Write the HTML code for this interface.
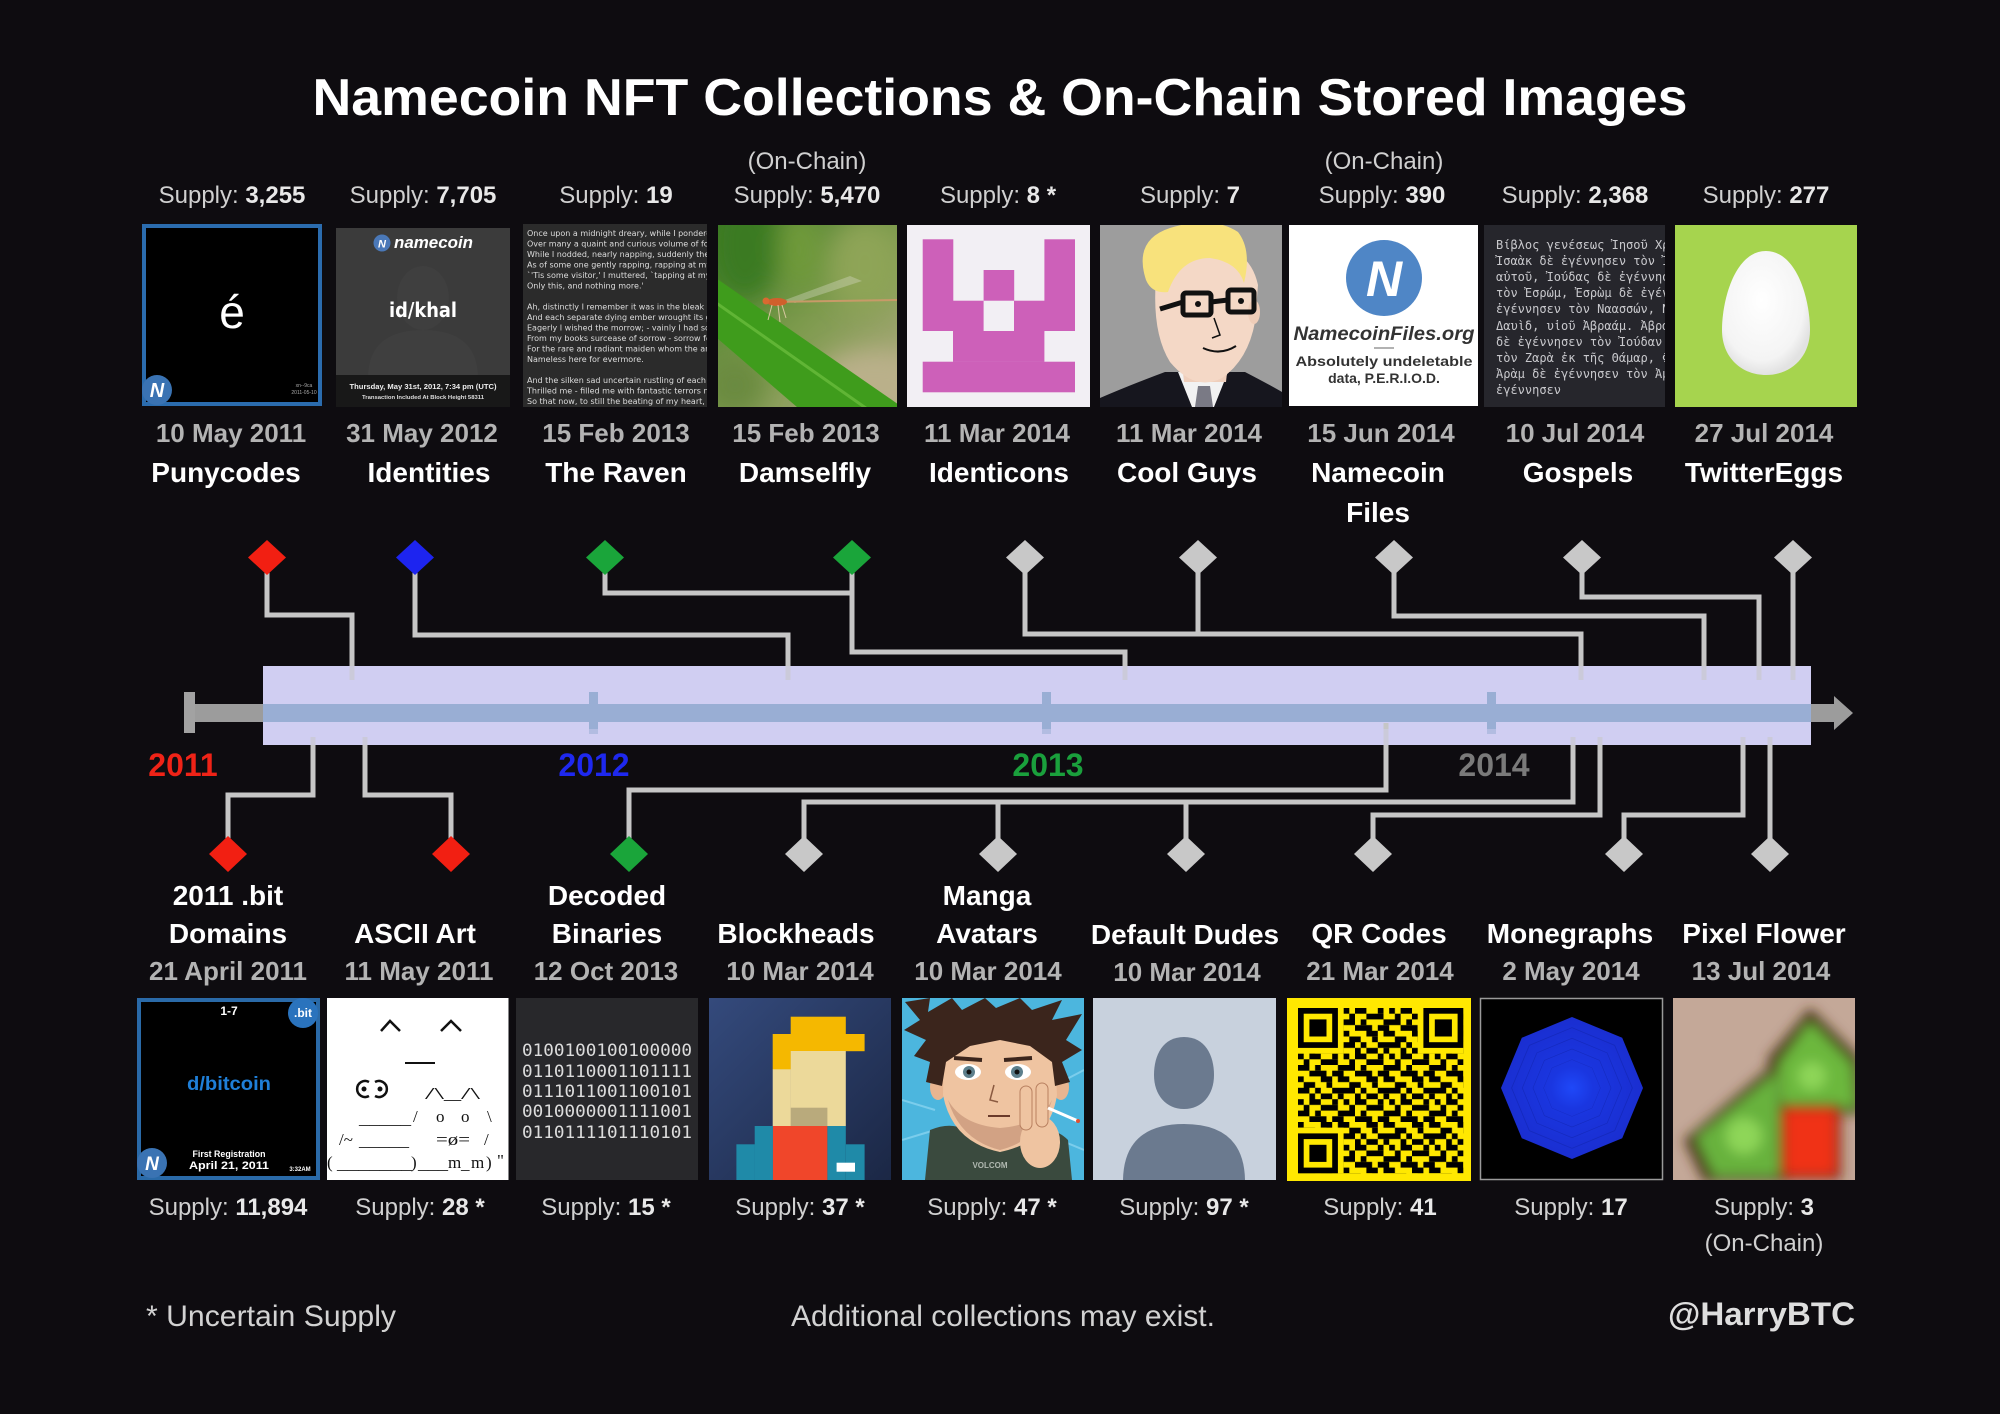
<!DOCTYPE html>
<html><head><meta charset="utf-8"><title>Namecoin NFT Collections &amp; On-Chain Stored Images</title>
<style>
html,body{margin:0;padding:0;background:#0e0c10;width:2000px;height:1414px;overflow:hidden}
svg{display:block;font-family:"Liberation Sans",Arial,sans-serif}
.sup{font-size:24px;fill:#d0d0d0;text-anchor:middle}
.b{font-weight:bold;fill:#e8e8e8}
.dt{font-size:26px;font-weight:bold;fill:#b3b3b3;text-anchor:middle}
.nm{font-size:28px;font-weight:bold;fill:#ffffff;text-anchor:middle}
.yr{font-size:32px;font-weight:bold;text-anchor:middle}
.cn{fill:none;stroke:#c6c6c6;stroke-width:5;stroke-linejoin:miter}
</style></head><body>
<svg width="2000" height="1414" viewBox="0 0 2000 1414" xmlns="http://www.w3.org/2000/svg">
<defs>
<filter id="bl4" x="-20%" y="-20%" width="140%" height="140%"><feGaussianBlur stdDeviation="6"/></filter>
<filter id="bl12" x="-30%" y="-30%" width="160%" height="160%"><feGaussianBlur stdDeviation="12"/></filter>
<clipPath id="cRav"><rect x="523" y="224" width="184" height="183"/></clipPath>
<clipPath id="cDam"><rect x="718" y="225" width="179" height="182"/></clipPath>
<clipPath id="cCG"><rect x="1100" y="225" width="182" height="182"/></clipPath>
<clipPath id="cGos"><rect x="1484" y="225" width="181" height="182"/></clipPath>
<clipPath id="cMan"><rect x="902" y="998" width="182" height="182"/></clipPath>
<clipPath id="cPF"><rect x="1673" y="998" width="182" height="182"/></clipPath>
<clipPath id="cBit"><rect x="137" y="998" width="183" height="182"/></clipPath>
<clipPath id="cPuny"><rect x="142" y="224" width="180" height="182"/></clipPath>
<linearGradient id="dg" x1="0" y1="0" x2="1" y2="1"><stop offset="0" stop-color="#3f7a26"/><stop offset="0.5" stop-color="#7c9a4c"/><stop offset="1" stop-color="#b0aa80"/></linearGradient>
<linearGradient id="bh" x1="0" y1="0" x2="1" y2="1"><stop offset="0" stop-color="#344a7c"/><stop offset="1" stop-color="#1b2745"/></linearGradient>
<radialGradient id="mg"><stop offset="0" stop-color="#1f48f8"/><stop offset="0.3" stop-color="#1a36e0"/><stop offset="1" stop-color="#1a2ed0"/></radialGradient>
<radialGradient id="egg" cx="0.45" cy="0.4" r="0.6"><stop offset="0" stop-color="#ffffff"/><stop offset="0.8" stop-color="#f4f4f4"/><stop offset="1" stop-color="#e2e2e2"/></radialGradient>
<pattern id="qrp" x="1298" y="1008" width="45.6" height="45.6" patternUnits="userSpaceOnUse">
<g transform="scale(5.7)" fill="#000">
<rect x="0" y="0" width="1" height="1"/><rect x="2" y="0" width="2" height="1"/><rect x="6" y="0" width="1" height="1"/>
<rect x="1" y="1" width="1" height="1"/><rect x="4" y="1" width="3" height="1"/>
<rect x="0" y="2" width="2" height="1"/><rect x="3" y="2" width="1" height="1"/><rect x="7" y="2" width="1" height="1"/>
<rect x="2" y="3" width="3" height="1"/><rect x="6" y="3" width="2" height="1"/>
<rect x="0" y="4" width="1" height="1"/><rect x="4" y="4" width="2" height="1"/><rect x="7" y="4" width="1" height="1"/>
<rect x="1" y="5" width="2" height="1"/><rect x="5" y="5" width="1" height="1"/>
<rect x="0" y="6" width="2" height="1"/><rect x="3" y="6" width="1" height="1"/><rect x="6" y="6" width="2" height="1"/>
<rect x="2" y="7" width="1" height="1"/><rect x="4" y="7" width="2" height="1"/><rect x="7" y="7" width="1" height="1"/>
</g></pattern>
</defs>

<rect width="2000" height="1414" fill="#0e0c10"/>

<text x="1000" y="115" font-size="52" font-weight="bold" fill="#ffffff" text-anchor="middle" textLength="1375" lengthAdjust="spacingAndGlyphs">Namecoin NFT Collections &amp; On-Chain Stored Images</text>

<text class="sup" x="807" y="169">(On-Chain)</text>
<text class="sup" x="1384" y="169">(On-Chain)</text>
<text class="sup" x="232" y="203">Supply: <tspan class="b">3,255</tspan></text>
<text class="sup" x="423" y="203">Supply: <tspan class="b">7,705</tspan></text>
<text class="sup" x="616" y="203">Supply: <tspan class="b">19</tspan></text>
<text class="sup" x="807" y="203">Supply: <tspan class="b">5,470</tspan></text>
<text class="sup" x="998" y="203">Supply: <tspan class="b">8 *</tspan></text>
<text class="sup" x="1190" y="203">Supply: <tspan class="b">7</tspan></text>
<text class="sup" x="1382" y="203">Supply: <tspan class="b">390</tspan></text>
<text class="sup" x="1575" y="203">Supply: <tspan class="b">2,368</tspan></text>
<text class="sup" x="1766" y="203">Supply: <tspan class="b">277</tspan></text>

<rect x="142" y="224" width="180" height="182" fill="#2b6cae"/>
<rect x="146" y="228" width="172" height="174" fill="#000"/>
<text x="232" y="328" font-size="46" fill="#fff" text-anchor="middle">é</text>
<g clip-path="url(#cPuny)">
<circle cx="157" cy="390" r="15" fill="#3a73b3"/>
<text x="157" y="397" font-size="20" font-weight="bold" font-style="italic" fill="#fff" text-anchor="middle">N</text>
</g>
<text x="304" y="387" font-size="5" fill="#aaa" text-anchor="middle">xn--9ca</text>
<text x="304" y="394" font-size="5" fill="#aaa" text-anchor="middle">2011-05-10</text>

<rect x="336" y="228" width="174" height="179" fill="#181818"/>
<rect x="336" y="228" width="174" height="147" fill="#3b3b3b"/>
<ellipse cx="423" cy="298" rx="26" ry="32" fill="#3f3f3f"/>
<path d="M368,375 Q370,330 423,330 Q476,330 478,375Z" fill="#3f3f3f"/>
<circle cx="382" cy="243" r="8.5" fill="#4a78b8"/>
<text x="382" y="247.5" font-size="11" font-weight="bold" font-style="italic" fill="#fff" text-anchor="middle">N</text>
<text x="394" y="248" font-size="17" font-weight="bold" font-style="italic" fill="#fff" textLength="79" lengthAdjust="spacingAndGlyphs">namecoin</text>
<text x="423" y="317" font-size="20" font-weight="bold" fill="#fff" text-anchor="middle" font-family="DejaVu Sans, sans-serif" textLength="68" lengthAdjust="spacingAndGlyphs">id/khal</text>
<text x="423" y="389" font-size="7" font-weight="bold" fill="#eee" text-anchor="middle" textLength="147" lengthAdjust="spacingAndGlyphs">Thursday, May 31st, 2012, 7:34 pm (UTC)</text>
<text x="423" y="399" font-size="5" font-weight="bold" fill="#ddd" text-anchor="middle" textLength="122" lengthAdjust="spacingAndGlyphs">Transaction Included At Block Height 58311</text>

<rect x="523" y="224" width="184" height="183" fill="#2b2b2b"/>
<g clip-path="url(#cRav)" font-family="DejaVu Sans, sans-serif" font-size="8" fill="#dddddd">
<text x="527" y="236">Once upon a midnight dreary, while I pondered, weak</text>
<text x="527" y="246.5">Over many a quaint and curious volume of forgotten</text>
<text x="527" y="257">While I nodded, nearly napping, suddenly there came</text>
<text x="527" y="267.5">As of some one gently rapping, rapping at my chamber</text>
<text x="527" y="278">`'Tis some visitor,' I muttered, `tapping at my</text>
<text x="527" y="288.5">Only this, and nothing more.'</text>
<text x="527" y="309.5">Ah, distinctly I remember it was in the bleak December</text>
<text x="527" y="320">And each separate dying ember wrought its ghost</text>
<text x="527" y="330.5">Eagerly I wished the morrow; - vainly I had sought</text>
<text x="527" y="341">From my books surcease of sorrow - sorrow for the</text>
<text x="527" y="351.5">For the rare and radiant maiden whom the angels</text>
<text x="527" y="362">Nameless here for evermore.</text>
<text x="527" y="383">And the silken sad uncertain rustling of each purple</text>
<text x="527" y="393.5">Thrilled me - filled me with fantastic terrors never</text>
<text x="527" y="404">So that now, to still the beating of my heart, I stood</text>
</g>

<g clip-path="url(#cDam)">
<rect x="718" y="225" width="179" height="182" fill="url(#dg)"/>
<g filter="url(#bl12)">
<ellipse cx="745" cy="245" rx="35" ry="55" fill="#3a7a20"/>
<ellipse cx="800" cy="250" rx="22" ry="40" fill="#6f9a3a"/>
<ellipse cx="865" cy="265" rx="35" ry="45" fill="#8ea456"/>
<ellipse cx="875" cy="385" rx="60" ry="35" fill="#bab08a"/>
<ellipse cx="735" cy="385" rx="30" ry="30" fill="#6a8a40"/>
</g>
<polygon points="710,274 905,409 905,420 812,420 710,332" fill="#3f9c1c"/>
<polyline points="712,300 880,418" fill="none" stroke="#6fc040" stroke-width="3" opacity="0.7"/>
<polygon points="785,300 850,276 862,281 795,303" fill="#e0e0d0" opacity="0.35"/>
<line x1="770" y1="302" x2="897" y2="300" stroke="#c89a68" stroke-width="2"/>
<ellipse cx="777" cy="302" rx="10" ry="4" fill="#d0602c"/>
<circle cx="766" cy="301" r="3.5" fill="#d86a30"/>
<g stroke="#d8c8a0" stroke-width="1"><line x1="772" y1="305" x2="768" y2="320"/><line x1="778" y1="305" x2="780" y2="322"/><line x1="782" y1="305" x2="786" y2="318"/></g>
</g>

<rect x="907" y="225" width="183" height="182" fill="#f2eff4"/>
<g fill="#cd60b9">
<rect x="922.7" y="239.3" width="30.6" height="91.7"/>
<rect x="1044.4" y="239.3" width="30.6" height="91.7"/>
<rect x="983.6" y="270" width="30.6" height="30.7"/>
<rect x="953" y="300.7" width="30.6" height="30.5"/>
<rect x="1014" y="300.7" width="30.6" height="30.5"/>
<rect x="953" y="331" width="91.4" height="30.9"/>
<rect x="922.7" y="361.7" width="152.3" height="30.6"/>
</g>

<rect x="1100" y="225" width="182" height="182" fill="#9d9d9d"/>
<g clip-path="url(#cCG)">
<path d="M1100,407 L1100,398 Q1130,385 1165,372 L1245,372 Q1270,385 1282,392 L1282,407Z" fill="#16161e"/>
<path d="M1178,372 L1228,372 L1214,407 L1192,407Z" fill="#f2f2f2"/>
<path d="M1198,386 L1210,386 L1213,407 L1195,407Z" fill="#7a7a85"/>
<path d="M1180,345 L1230,345 L1226,382 L1184,382Z" fill="#efcfbc"/>
<path d="M1157,268 Q1150,330 1170,362 Q1195,392 1222,378 Q1248,360 1255,322 L1258,285 Q1250,248 1210,244 Q1172,244 1157,268Z" fill="#f4d8c6"/>
<ellipse cx="1254" cy="312" rx="6" ry="12" fill="#efcdb8"/>
<path d="M1146,280 Q1133,240 1170,228 Q1212,215 1238,232 Q1252,250 1244,283 Q1238,262 1210,258 Q1180,258 1168,292 Q1152,294 1146,280Z" fill="#f8e27c"/>
<g fill="none" stroke="#111" stroke-width="5">
<rect x="1183" y="293" width="28" height="22" rx="3"/>
<rect x="1228" y="290" width="26" height="22" rx="3"/>
<path d="M1211,302 L1228,300"/>
<path d="M1160,309 L1183,302"/>
</g>
<circle cx="1198" cy="304" r="3" fill="#111"/><circle cx="1241" cy="301" r="3" fill="#111"/>
<path d="M1214,318 L1220,335 L1212,338" fill="none" stroke="#111" stroke-width="1.5"/>
<path d="M1203,348 Q1220,356 1236,346" fill="none" stroke="#111" stroke-width="2"/>
</g>

<rect x="1289" y="225" width="189" height="181" fill="#ffffff"/>
<circle cx="1384" cy="278" r="38" fill="#4f86c6"/>
<text x="1384" y="296" font-size="50" font-weight="bold" font-style="italic" fill="#fff" text-anchor="middle">N</text>
<text x="1384" y="340" font-size="19" font-weight="bold" font-style="italic" fill="#333" text-anchor="middle" textLength="181" lengthAdjust="spacingAndGlyphs">NamecoinFiles.org</text>
<line x1="1374" y1="348" x2="1394" y2="348" stroke="#666" stroke-width="1"/>
<text x="1384" y="366" font-size="14" font-weight="bold" fill="#333" text-anchor="middle" textLength="177" lengthAdjust="spacingAndGlyphs">Absolutely undeletable</text>
<text x="1384" y="383" font-size="14" font-weight="bold" fill="#333" text-anchor="middle">data,  P.E.R.I.O.D.</text>

<rect x="1484" y="225" width="181" height="182" fill="#26262c"/>
<g clip-path="url(#cGos)" font-family="DejaVu Sans Mono, monospace" font-size="12" fill="#c8c8cc">
<text x="1496" y="249">Βίβλος γενέσεως Ἰησοῦ Χριστοῦ</text>
<text x="1496" y="265">Ἰσαὰκ δὲ ἐγέννησεν τὸν Ἰακώβ,</text>
<text x="1496" y="281">αὐτοῦ, Ἰούδας δὲ ἐγέννησεν</text>
<text x="1496" y="297">τὸν Ἐσρώμ, Ἐσρὼμ δὲ ἐγέννησεν</text>
<text x="1496" y="313">ἐγέννησεν τὸν Ναασσών, Ναασσὼν</text>
<text x="1496" y="330">Δαυὶδ, υἱοῦ Ἀβραάμ. Ἀβραὰμ</text>
<text x="1496" y="346">δὲ ἐγέννησεν τὸν Ἰούδαν καὶ</text>
<text x="1496" y="362">τὸν Ζαρὰ ἐκ τῆς Θάμαρ, Φαρὲς</text>
<text x="1496" y="378">Ἀρὰμ δὲ ἐγέννησεν τὸν Ἀμιναδάβ</text>
<text x="1496" y="394">ἐγέννησεν</text>
</g>

<rect x="1675" y="225" width="182" height="182" fill="#a6d44e"/>
<path d="M1766,251 C1797,251 1810,300 1810,330 C1810,358 1790,375 1766,375 C1742,375 1722,358 1722,330 C1722,300 1735,251 1766,251Z" fill="url(#egg)"/>

<text class="dt" x="231" y="442">10 May 2011</text>
<text class="dt" x="422" y="442">31 May 2012</text>
<text class="dt" x="616" y="442">15 Feb 2013</text>
<text class="dt" x="806" y="442">15 Feb 2013</text>
<text class="dt" x="997" y="442">11 Mar 2014</text>
<text class="dt" x="1189" y="442">11 Mar 2014</text>
<text class="dt" x="1381" y="442">15 Jun 2014</text>
<text class="dt" x="1575" y="442">10 Jul 2014</text>
<text class="dt" x="1764" y="442">27 Jul 2014</text>
<text class="nm" x="226" y="482">Punycodes</text>
<text class="nm" x="429" y="482">Identities</text>
<text class="nm" x="616" y="482">The Raven</text>
<text class="nm" x="805" y="482">Damselfly</text>
<text class="nm" x="999" y="482">Identicons</text>
<text class="nm" x="1187" y="482">Cool Guys</text>
<text class="nm" x="1378" y="482">Namecoin</text>
<text class="nm" x="1378" y="522">Files</text>
<text class="nm" x="1578" y="482">Gospels</text>
<text class="nm" x="1764" y="482">TwitterEggs</text>

<rect x="190" y="704" width="75" height="18" fill="#9c9c9c"/>
<rect x="184" y="692" width="11" height="41" fill="#a2a2a2"/>
<rect x="1809" y="704" width="28" height="18" fill="#9c9c9c"/>
<polygon points="1834,696 1853,713 1834,730" fill="#9c9c9c"/>
<rect x="263" y="666" width="1548" height="79" fill="#d0cef2"/>
<rect x="263" y="704" width="1548" height="18" fill="#99aed4"/>
<rect x="589" y="692" width="9" height="42" fill="#99aed4"/>
<rect x="1042" y="692" width="9" height="42" fill="#99aed4"/>
<rect x="1487" y="692" width="9" height="42" fill="#99aed4"/>

<path class="cn" d="M267,570 V615 H352 V680"/>
<path class="cn" d="M415,570 V635 H788 V680"/>
<path class="cn" d="M605,570 V593 H852"/>
<path class="cn" d="M852,570 V652 H1125 V680"/>
<path class="cn" d="M1025,570 V634 H1581 V680"/>
<path class="cn" d="M1198,570 V634"/>
<path class="cn" d="M1394,570 V616 H1704 V680"/>
<path class="cn" d="M1582,570 V597 H1759 V680"/>
<path class="cn" d="M1793,570 V680"/>
<path class="cn" d="M228,840 V795 H313 V737"/>
<path class="cn" d="M451,840 V795 H365 V737"/>
<path class="cn" d="M629,840 V790 H1386 V723"/>
<path class="cn" d="M804,840 V802 H1573 V737"/>
<path class="cn" d="M998,840 V802"/>
<path class="cn" d="M1186,840 V802"/>
<path class="cn" d="M1373,840 V815 H1600 V737"/>
<path class="cn" d="M1624,840 V815 H1743 V737"/>
<path class="cn" d="M1770,840 V737"/>
<rect x="263" y="666" width="1548" height="16" fill="#d0cef2" opacity="0.45"/>
<rect x="263" y="729" width="1548" height="16" fill="#d0cef2" opacity="0.45"/>

<g>
<polygon points="267,540 286,557.5 267,575 248,557.5" fill="#f21f12"/>
<polygon points="415,540 434,557.5 415,575 396,557.5" fill="#1d24f0"/>
<polygon points="605,540 624,557.5 605,575 586,557.5" fill="#1aa53a"/>
<polygon points="852,540 871,557.5 852,575 833,557.5" fill="#1aa53a"/>
<polygon points="1025,540 1044,557.5 1025,575 1006,557.5" fill="#c8c8c8"/>
<polygon points="1198,540 1217,557.5 1198,575 1179,557.5" fill="#c8c8c8"/>
<polygon points="1394,540 1413,557.5 1394,575 1375,557.5" fill="#c8c8c8"/>
<polygon points="1582,540 1601,557.5 1582,575 1563,557.5" fill="#c8c8c8"/>
<polygon points="1793,540 1812,557.5 1793,575 1774,557.5" fill="#c8c8c8"/>
</g>
<g>
<polygon points="228,836 247,854 228,872 209,854" fill="#f21f12"/>
<polygon points="451,836 470,854 451,872 432,854" fill="#f21f12"/>
<polygon points="629,836 648,854 629,872 610,854" fill="#1aa53a"/>
<polygon points="804,836 823,854 804,872 785,854" fill="#c8c8c8"/>
<polygon points="998,836 1017,854 998,872 979,854" fill="#c8c8c8"/>
<polygon points="1186,836 1205,854 1186,872 1167,854" fill="#c8c8c8"/>
<polygon points="1373,836 1392,854 1373,872 1354,854" fill="#c8c8c8"/>
<polygon points="1624,836 1643,854 1624,872 1605,854" fill="#c8c8c8"/>
<polygon points="1770,836 1789,854 1770,872 1751,854" fill="#c8c8c8"/>
</g>

<text class="yr" x="183" y="776" fill="#ef2317">2011</text>
<text class="yr" x="594" y="776" fill="#1e28ef">2012</text>
<text class="yr" x="1048" y="776" fill="#1aa03c">2013</text>
<text class="yr" x="1494" y="776" fill="#7a7a7a">2014</text>

<text class="nm" x="228" y="905">2011 .bit</text>
<text class="nm" x="228" y="943">Domains</text>
<text class="nm" x="415" y="943">ASCII Art</text>
<text class="nm" x="607" y="905">Decoded</text>
<text class="nm" x="607" y="943">Binaries</text>
<text class="nm" x="796" y="943">Blockheads</text>
<text class="nm" x="987" y="905">Manga</text>
<text class="nm" x="987" y="943">Avatars</text>
<text class="nm" x="1185" y="944">Default Dudes</text>
<text class="nm" x="1379" y="943">QR Codes</text>
<text class="nm" x="1570" y="943">Monegraphs</text>
<text class="nm" x="1764" y="943">Pixel Flower</text>
<text class="dt" x="228" y="980">21 April 2011</text>
<text class="dt" x="419" y="980">11 May 2011</text>
<text class="dt" x="606" y="980">12 Oct 2013</text>
<text class="dt" x="800" y="980">10 Mar 2014</text>
<text class="dt" x="988" y="980">10 Mar 2014</text>
<text class="dt" x="1187" y="981">10 Mar 2014</text>
<text class="dt" x="1380" y="980">21 Mar 2014</text>
<text class="dt" x="1571" y="980">2 May 2014</text>
<text class="dt" x="1761" y="980">13 Jul 2014</text>

<rect x="137" y="998" width="183" height="182" fill="#2a6aa8"/>
<rect x="141" y="1002" width="175" height="174" fill="#000"/>
<g clip-path="url(#cBit)">
<circle cx="303" cy="1013" r="15" fill="#2a73bd"/>
<circle cx="152" cy="1163" r="15" fill="#3a73b3"/>
</g>
<text x="303" y="1017" font-size="12" font-weight="bold" fill="#fff" text-anchor="middle">.bit</text>
<text x="152" y="1170" font-size="19" font-weight="bold" font-style="italic" fill="#fff" text-anchor="middle">N</text>
<text x="229" y="1015" font-size="12" font-weight="bold" fill="#fff" text-anchor="middle">1-7</text>
<text x="229" y="1090" font-size="19" font-weight="bold" fill="#1f7fd8" text-anchor="middle" textLength="84" lengthAdjust="spacingAndGlyphs">d/bitcoin</text>
<text x="229" y="1157" font-size="9" font-weight="bold" fill="#fff" text-anchor="middle" textLength="73" lengthAdjust="spacingAndGlyphs">First Registration</text>
<text x="229" y="1169" font-size="11" font-weight="bold" fill="#fff" text-anchor="middle" textLength="80" lengthAdjust="spacingAndGlyphs">April 21, 2011</text>
<text x="300" y="1171" font-size="6" font-weight="bold" fill="#fff" text-anchor="middle">3:32AM</text>

<rect x="327" y="998" width="181.5" height="182" fill="#ffffff"/>
<g fill="none" stroke="#111" stroke-width="2.5">
<polyline points="381,1031 390,1021 400,1031"/>
<polyline points="441,1031 451,1021 461,1031"/>
<line x1="405" y1="1063" x2="435" y2="1063" stroke-width="2"/>
<path d="M369,1082 A8,8 0 1 0 369,1096"/>
<path d="M375,1082 A8,8 0 1 1 375,1096"/>
</g>
<circle cx="364" cy="1089" r="2.5" fill="#111"/><circle cx="380" cy="1089" r="2.5" fill="#111"/>
<g font-family="Liberation Serif, serif" font-size="17" fill="#111">
<text x="425" y="1099" textLength="55" lengthAdjust="spacingAndGlyphs">/\_/\</text>
<text x="359" y="1124" textLength="52" lengthAdjust="spacingAndGlyphs">_____</text>
<text x="413" y="1122">/</text><text x="436" y="1122">o</text><text x="461" y="1122">o</text><text x="487" y="1122">\</text>
<text x="339" y="1145">/~</text>
<text x="359" y="1146" textLength="50" lengthAdjust="spacingAndGlyphs">_____</text>
<text x="436" y="1145" textLength="34" lengthAdjust="spacingAndGlyphs">=ø=</text>
<text x="484" y="1145">/</text>
<text x="327" y="1168">(</text>
<text x="337" y="1169" textLength="75" lengthAdjust="spacingAndGlyphs">_______</text>
<text x="411" y="1168">)</text>
<text x="418" y="1169" textLength="30" lengthAdjust="spacingAndGlyphs">___</text>
<text x="448" y="1168">m</text><text x="461" y="1169">_</text><text x="471" y="1168">m</text><text x="486" y="1168">)</text><text x="497" y="1166">"</text>
</g>

<rect x="516" y="998" width="182" height="182" fill="#28282b"/>
<g font-family="DejaVu Sans Mono, monospace" font-size="17" fill="#dcdcdc">
<text x="522" y="1056" textLength="170" lengthAdjust="spacingAndGlyphs">0100100100100000</text>
<text x="522" y="1077" textLength="170" lengthAdjust="spacingAndGlyphs">0110110001101111</text>
<text x="522" y="1097" textLength="170" lengthAdjust="spacingAndGlyphs">0111011001100101</text>
<text x="522" y="1117" textLength="170" lengthAdjust="spacingAndGlyphs">0010000001111001</text>
<text x="522" y="1138" textLength="170" lengthAdjust="spacingAndGlyphs">0110111101110101</text>
</g>

<rect x="709" y="998" width="182" height="182" fill="url(#bh)"/>
<rect x="790.7" y="1016.7" width="55.1" height="17.5" fill="#f5b800"/>
<rect x="772.7" y="1034" width="91.9" height="17.2" fill="#f5b800"/>
<rect x="772.7" y="1051" width="18.2" height="18.5" fill="#f5b800"/>
<rect x="790.7" y="1051" width="55.1" height="75.2" fill="#ecd99a"/>
<rect x="772.7" y="1069.3" width="18.2" height="56.9" fill="#ecd99a"/>
<rect x="790.7" y="1107.7" width="36.7" height="18.5" fill="#b9aa7c"/>
<rect x="772.7" y="1126" width="54.7" height="54" fill="#f0462a"/>
<rect x="754.7" y="1126" width="18.2" height="54" fill="#1f8aa8"/>
<rect x="736.4" y="1144.3" width="18.5" height="35.7" fill="#1f8aa8"/>
<rect x="827.4" y="1126" width="18.4" height="54" fill="#1f8aa8"/>
<rect x="845.8" y="1144.3" width="18.8" height="35.7" fill="#1f8aa8"/>
<rect x="836.6" y="1162.7" width="18.4" height="9" fill="#ffffff"/>

<g clip-path="url(#cMan)">
<rect x="902" y="998" width="182" height="182" fill="#4cb6de"/>
<g stroke="#8fd8f2" stroke-width="2" opacity="0.7">
<line x1="902" y1="1100" x2="935" y2="1110"/><line x1="902" y1="1140" x2="935" y2="1130"/><line x1="1084" y1="1150" x2="1060" y2="1140"/><line x1="1084" y1="1070" x2="1065" y2="1080"/>
</g>
<ellipse cx="938" cy="1087" rx="8" ry="13" fill="#e8b590"/>
<ellipse cx="1061" cy="1087" rx="8" ry="13" fill="#e8b590"/>
<path d="M925,1180 L930,1130 Q960,1118 975,1140 L1000,1152 L1030,1140 Q1050,1122 1068,1140 L1072,1180Z" fill="#3a4a3e"/>
<path d="M944,1040 Q1000,1022 1054,1040 L1057,1095 Q1050,1142 1000,1152 Q952,1142 943,1095Z" fill="#efc4a1"/>
<path d="M948,1100 Q960,1140 1000,1150 Q1040,1140 1052,1100 Q1040,1125 1000,1128 Q962,1125 948,1100Z" fill="#d2a284"/>
<path d="M905,1002 L930,998 L928,1012 L952,998 L962,1010 L985,998 L996,1008 L1020,998 L1032,1010 L1062,1000 L1052,1020 L1082,1014 L1066,1040 L1082,1050 L1062,1062 L1070,1082 L1055,1086 L1052,1062 L1030,1046 L1000,1040 L970,1046 L946,1062 L942,1086 L926,1082 L930,1062 L914,1056 L926,1040 L904,1030 L920,1020Z" fill="#3b251c"/>
<ellipse cx="968" cy="1072" rx="13" ry="8" fill="#fff"/>
<ellipse cx="1018" cy="1072" rx="13" ry="8" fill="#fff"/>
<circle cx="969" cy="1072" r="6" fill="#5d7f8c"/><circle cx="1017" cy="1072" r="6" fill="#5d7f8c"/>
<circle cx="969" cy="1072" r="2.5" fill="#111"/><circle cx="1017" cy="1072" r="2.5" fill="#111"/>
<path d="M954,1058 L982,1060 M1004,1060 L1032,1058" stroke="#3b251c" stroke-width="4"/>
<path d="M994,1085 L990,1100 L998,1102" fill="none" stroke="#8a5a40" stroke-width="1.5"/>
<line x1="988" y1="1116" x2="1010" y2="1116" stroke="#6a3a2a" stroke-width="2"/>
<ellipse cx="1040" cy="1142" rx="20" ry="26" fill="#efc4a1"/>
<rect x="1020" y="1086" width="12" height="44" rx="6" fill="#efc4a1" stroke="#b88060" stroke-width="1"/>
<rect x="1036" y="1083" width="12" height="44" rx="6" fill="#efc4a1" stroke="#b88060" stroke-width="1"/>
<line x1="1048" y1="1108" x2="1078" y2="1121" stroke="#fff" stroke-width="3"/>
<circle cx="1078" cy="1121" r="2" fill="#e05030"/>
<text x="990" y="1168" font-size="8" font-weight="bold" fill="#b0b8b0" text-anchor="middle">VOLCOM</text>
</g>

<rect x="1093" y="998" width="183" height="182" fill="#c8d1dd"/>
<path d="M1184,1037 C1205,1037 1214,1055 1214,1075 C1214,1095 1202,1109 1184,1109 C1166,1109 1154,1095 1154,1075 C1154,1055 1163,1037 1184,1037Z" fill="#6b7a8f"/>
<path d="M1123,1180 Q1124,1124 1184,1124 Q1244,1124 1245,1180Z" fill="#6b7a8f"/>

<rect x="1287" y="998" width="184" height="183" fill="#ffe800"/>
<rect x="1298" y="1008" width="165.3" height="165.3" fill="url(#qrp)"/>
<g>
<rect x="1298" y="1008" width="45.6" height="45.6" fill="#ffe800"/>
<rect x="1298" y="1008" width="39.9" height="39.9" fill="#000"/>
<rect x="1303.7" y="1013.7" width="28.5" height="28.5" fill="#ffe800"/>
<rect x="1309.4" y="1019.4" width="17.1" height="17.1" fill="#000"/>
<rect x="1417.7" y="1008" width="45.6" height="45.6" fill="#ffe800"/>
<rect x="1423.4" y="1008" width="39.9" height="39.9" fill="#000"/>
<rect x="1429.1" y="1013.7" width="28.5" height="28.5" fill="#ffe800"/>
<rect x="1434.8" y="1019.4" width="17.1" height="17.1" fill="#000"/>
<rect x="1298" y="1127.7" width="45.6" height="45.6" fill="#ffe800"/>
<rect x="1298" y="1133.4" width="39.9" height="39.9" fill="#000"/>
<rect x="1303.7" y="1139.1" width="28.5" height="28.5" fill="#ffe800"/>
<rect x="1309.4" y="1144.8" width="17.1" height="17.1" fill="#000"/>
</g>

<rect x="1480.5" y="998.5" width="182" height="181" fill="#000" stroke="#9a9a9a" stroke-width="1.5"/>
<polygon transform="translate(1572,1088)" points="71,0 50.2,50.2 0,71 -50.2,50.2 -71,0 -50.2,-50.2 0,-71 50.2,-50.2" fill="url(#mg)"/>
<g fill="none" stroke="#1428b8" stroke-width="1" opacity="0.8">
<polygon transform="translate(1572,1088) scale(0.85)" points="71,0 50.2,50.2 0,71 -50.2,50.2 -71,0 -50.2,-50.2 0,-71 50.2,-50.2"/>
<polygon transform="translate(1572,1088) scale(0.7)" points="71,0 50.2,50.2 0,71 -50.2,50.2 -71,0 -50.2,-50.2 0,-71 50.2,-50.2"/>
<polygon transform="translate(1572,1088) scale(0.55)" points="71,0 50.2,50.2 0,71 -50.2,50.2 -71,0 -50.2,-50.2 0,-71 50.2,-50.2"/>
<polygon transform="translate(1572,1088) scale(0.4)" points="71,0 50.2,50.2 0,71 -50.2,50.2 -71,0 -50.2,-50.2 0,-71 50.2,-50.2"/>
</g>

<g clip-path="url(#cPF)">
<rect x="1673" y="998" width="182" height="182" fill="#c4a898"/>
<g filter="url(#bl4)">
<polygon points="1810,1008 1860,1058 1862,1114 1770,1114 1768,1058" fill="#4a3018"/>
<polygon points="1810,1022 1852,1064 1856,1108 1778,1108 1777,1066" fill="#6cb83e"/>
<polygon points="1684,1140 1778,1060 1787,1182 1704,1182" fill="#4a3018"/>
<polygon points="1696,1138 1777,1072 1783,1176 1714,1176" fill="#68b23c"/>
<rect x="1779" y="1104" width="62" height="76" fill="#5a2010"/>
<rect x="1784" y="1109" width="52" height="66" fill="#f03018"/>
<circle cx="1812" cy="1076" r="14" fill="#8ed658"/>
<circle cx="1744" cy="1136" r="18" fill="#8ed658"/>
</g>
</g>

<text class="sup" x="228" y="1215">Supply: <tspan class="b">11,894</tspan></text>
<text class="sup" x="420" y="1215">Supply: <tspan class="b">28 *</tspan></text>
<text class="sup" x="606" y="1215">Supply: <tspan class="b">15 *</tspan></text>
<text class="sup" x="800" y="1215">Supply: <tspan class="b">37 *</tspan></text>
<text class="sup" x="992" y="1215">Supply: <tspan class="b">47 *</tspan></text>
<text class="sup" x="1184" y="1215">Supply: <tspan class="b">97 *</tspan></text>
<text class="sup" x="1380" y="1215">Supply: <tspan class="b">41</tspan></text>
<text class="sup" x="1571" y="1215">Supply: <tspan class="b">17</tspan></text>
<text class="sup" x="1764" y="1215">Supply: <tspan class="b">3</tspan></text>
<text class="sup" x="1764" y="1251">(On-Chain)</text>

<text x="146" y="1326" font-size="30" fill="#d2d2d2" textLength="250" lengthAdjust="spacingAndGlyphs">* Uncertain Supply</text>
<text x="1003" y="1326" font-size="30" fill="#d2d2d2" text-anchor="middle" textLength="424" lengthAdjust="spacingAndGlyphs">Additional collections may exist.</text>
<text x="1668" y="1325" font-size="32" font-weight="bold" fill="#dedede" textLength="187" lengthAdjust="spacingAndGlyphs">@HarryBTC</text>
</svg>
</body></html>
